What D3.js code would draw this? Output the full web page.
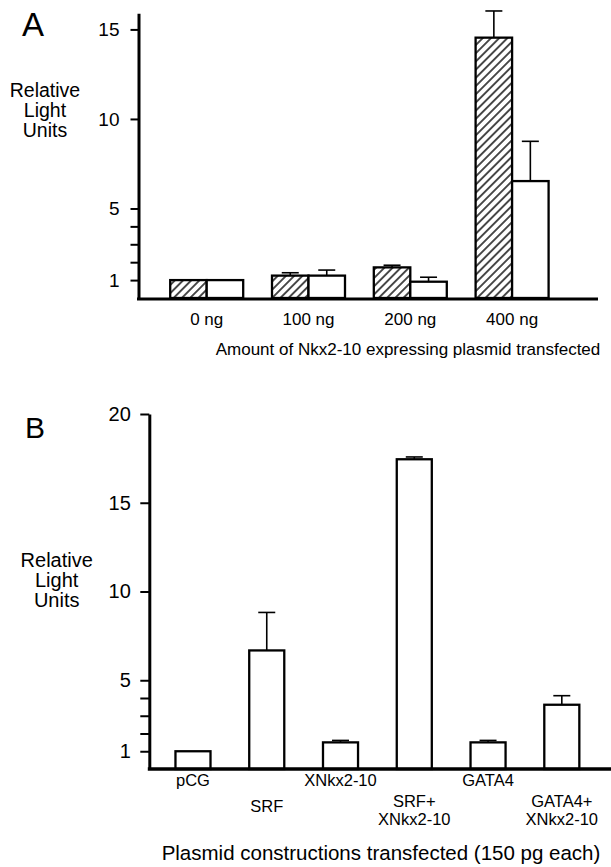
<!DOCTYPE html>
<html lang="en">
<head>
    <meta charset="UTF-8">
    <title>Relative Light Units</title>
    <script src="https://d3js.org/d3.v7.min.js"></script>
    <style>
        body {
            margin: 0;
            padding: 0;
            background: #fff;
        }
        svg {
            display: block;
            font-family: 'Liberation Sans', Arial, Helvetica, sans-serif;
        }
        .axis text {
            fill: #000;
        }
    </style>
</head>
<body>
    <script>
        // Panel A data
        const doses = ["0 ng", "100 ng", "200 ng", "400 ng"];
        const hatchedValues = [1.0, 1.25, 1.71, 14.54];
        const hatchedErrors = [0, 0.16, 0.12, 1.49];
        const openValues = [1.0, 1.25, 0.91, 6.53];
        const openErrors = [0, 0.31, 0.25, 2.22];
        const tickValuesA = [1, 2, 3, 4, 5, 10, 15];
        const tickLabelsA = [1, 5, 10, 15];

        // Panel B data
        const constructs = [["pCG"], ["SRF"], ["XNkx2-10"], ["SRF+", "XNkx2-10"], ["GATA4"], ["GATA4+", "XNkx2-10"]];
        const constructValues = [1.0, 6.68, 1.5, 17.45, 1.5, 3.62];
        const constructErrors = [0, 2.14, 0.11, 0.13, 0.11, 0.51];
        const tickValuesB = [1, 2, 3, 4, 5, 10, 15, 20];
        const tickLabelsB = [1, 5, 10, 15, 20];

        const width = 611, height = 867;

        const svg = d3.select("body").append("svg")
            .attr("width", width)
            .attr("height", height);

        // hatch for the first series
        svg.append("defs").append("pattern")
            .attr("id", "hatch")
            .attr("patternUnits", "userSpaceOnUse")
            .attr("width", 5.8)
            .attr("height", 5.8)
            .attr("patternTransform", "rotate(45)")
            .call(p => p.append("rect").attr("width", 5.8).attr("height", 5.8).attr("fill", "#fff"))
            .append("line")
            .attr("x1", 2.9).attr("y1", 0)
            .attr("x2", 2.9).attr("y2", 5.8)
            .attr("stroke", "#000")
            .attr("stroke-width", 1.4);

        function yLabel(g, cx, baseline, size) {
            const t = g.append("text")
                .attr("text-anchor", "middle")
                .style("font-size", size + "px");
            ["Relative", "Light", "Units"].forEach((s, i) => {
                t.append("tspan").attr("x", cx).attr("y", baseline + i * 20).text(s);
            });
        }

        function errorBars(g, data, xc, y) {
            const eb = g.selectAll(null).data(data.filter(d => d.err > 0)).enter().append("g");
            eb.append("line")
                .attr("x1", xc).attr("x2", xc)
                .attr("y1", d => y(d.value))
                .attr("y2", d => y(d.value + d.err))
                .attr("stroke", "#000").attr("stroke-width", 1.6);
            eb.append("line")
                .attr("x1", d => xc(d) - 8.5).attr("x2", d => xc(d) + 8.5)
                .attr("y1", d => y(d.value + d.err))
                .attr("y2", d => y(d.value + d.err))
                .attr("stroke", "#000").attr("stroke-width", 1.6);
        }

        function styleAxis(g, size) {
            g.attr("font-family", null).attr("font-size", null);
            g.select(".domain").attr("stroke-width", 3);
            g.selectAll(".tick line").attr("stroke-width", 2);
            g.selectAll(".tick text").style("font-size", size + "px");
        }

        // ---------- Panel A ----------
        const gA = svg.append("g");
        const yA = d3.scaleLinear().domain([0, 15.9]).range([298, 13.3]);
        const xA = d3.scaleBand().domain(doses).range([155.8, 563]).paddingInner(0.283).paddingOuter(0.1415);
        const subA = d3.scaleBand().domain(["hatched", "open"]).range([0, xA.bandwidth()]);
        const axisXA = 138.5;

        const dataA = [];
        doses.forEach((d, i) => {
            dataA.push({ dose: d, kind: "hatched", value: hatchedValues[i], err: hatchedErrors[i] });
            dataA.push({ dose: d, kind: "open", value: openValues[i], err: openErrors[i] });
        });

        errorBars(gA, dataA, d => xA(d.dose) + subA(d.kind) + subA.bandwidth() / 2, yA);

        gA.selectAll(".barA").data(dataA).enter().append("rect")
            .attr("class", "barA")
            .attr("x", d => xA(d.dose) + subA(d.kind))
            .attr("y", d => yA(d.value))
            .attr("width", subA.bandwidth())
            .attr("height", d => yA(0) - yA(d.value))
            .attr("fill", d => d.kind === "hatched" ? "url(#hatch)" : "#fff")
            .attr("stroke", "#000")
            .attr("stroke-width", 2.3);

        gA.append("g")
            .attr("class", "axis")
            .attr("transform", `translate(${axisXA},0)`)
            .call(d3.axisLeft(yA).tickValues(tickValuesA).tickSizeInner(8).tickSizeOuter(0).tickPadding(11)
                .tickFormat(d => tickLabelsA.includes(d) ? d : ""))
            .call(g => styleAxis(g, 19));

        gA.append("line")
            .attr("x1", axisXA - 1.5).attr("x2", 598)
            .attr("y1", yA(0) + 1).attr("y2", yA(0) + 1)
            .attr("stroke", "#000").attr("stroke-width", 3);

        gA.selectAll(".doseLabel").data(doses).enter().append("text")
            .attr("x", d => xA(d) + xA.bandwidth() / 2)
            .attr("y", 325)
            .attr("text-anchor", "middle")
            .style("font-size", "17px")
            .text(d => d);

        gA.append("text")
            .attr("x", 408).attr("y", 355)
            .attr("text-anchor", "middle")
            .style("font-size", "17px")
            .text("Amount of Nkx2-10 expressing plasmid transfected");

        gA.append("text").attr("x", 22).attr("y", 36).style("font-size", "33px").text("A");
        yLabel(gA, 45, 96.5, 19.5);

        // ---------- Panel B ----------
        const gB = svg.append("g");
        const yB = d3.scaleLinear().domain([0, 20]).range([769, 414]);
        const xB = d3.scaleBand().domain(constructs.map(c => c.join(" "))).range([156.1, 598.7])
            .paddingInner(0.525).paddingOuter(0.2625);
        const axisXB = 149.3;

        const dataB = constructs.map((c, i) => ({ key: c.join(" "), lines: c, value: constructValues[i], err: constructErrors[i] }));

        errorBars(gB, dataB, d => xB(d.key) + xB.bandwidth() / 2, yB);

        gB.selectAll(".barB").data(dataB).enter().append("rect")
            .attr("class", "barB")
            .attr("x", d => xB(d.key))
            .attr("y", d => yB(d.value))
            .attr("width", xB.bandwidth())
            .attr("height", d => yB(0) - yB(d.value))
            .attr("fill", "#fff")
            .attr("stroke", "#000")
            .attr("stroke-width", 2.3);

        gB.append("g")
            .attr("class", "axis")
            .attr("transform", `translate(${axisXB},0)`)
            .call(d3.axisLeft(yB).tickValues(tickValuesB).tickSizeInner(9).tickSizeOuter(0).tickPadding(9.5)
                .tickFormat(d => tickLabelsB.includes(d) ? d : ""))
            .call(g => styleAxis(g, 20));

        gB.append("line")
            .attr("x1", axisXB - 1.5).attr("x2", 611)
            .attr("y1", yB(0)).attr("y2", yB(0))
            .attr("stroke", "#000").attr("stroke-width", 3.5);

        // labels alternate between an upper and a lower row
        gB.selectAll(".constructLabel").data(dataB).enter().append("text")
            .attr("text-anchor", "middle")
            .style("font-size", "16.5px")
            .each(function (d, i) {
                const t = d3.select(this);
                let base = 786;
                if (i % 2 === 1) base = d.lines.length > 1 ? 806.5 : 811.5;
                d.lines.forEach((s, j) => {
                    t.append("tspan")
                        .attr("x", xB(d.key) + xB.bandwidth() / 2)
                        .attr("y", base + j * 18)
                        .text(s);
                });
            });

        gB.append("text")
            .attr("x", 381).attr("y", 860)
            .attr("text-anchor", "middle")
            .style("font-size", "20.5px")
            .text("Plasmid constructions transfected (150 pg each)");

        gB.append("text").attr("x", 25).attr("y", 437.5).style("font-size", "30px").text("B");
        yLabel(gB, 56.7, 566.7, 20);
    </script>
</body>
</html>
